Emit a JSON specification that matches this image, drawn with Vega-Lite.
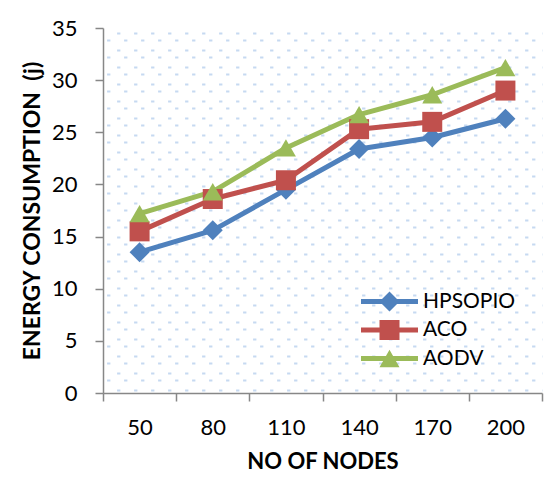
{
  "$schema": "https://vega.github.io/schema/vega-lite/v6.json",
  "width": 439,
  "height": 365,
  "autosize": {"type": "none"},
  "padding": {"left": 103, "top": 28, "right": 5, "bottom": 84},
  "background": "#ffffff",
  "config": {
    "view": {"stroke": null},
    "font": "Lato",
    "axis": {
      "labelFont": "Lato",
      "labelFontSize": 22,
      "labelColor": "#000000",
      "titleFont": "Lato",
      "titleFontSize": 22,
      "titleFontWeight": "bold",
      "titleColor": "#000000",
      "domainColor": "#878787",
      "domainWidth": 1.5,
      "tickColor": "#878787",
      "tickWidth": 1.5,
      "tickSize": 8
    }
  },
  "data": {
    "values": [
      {"nodes": 50, "protocol": "HPSOPIO", "energy": 13.5},
      {"nodes": 80, "protocol": "HPSOPIO", "energy": 15.6},
      {"nodes": 110, "protocol": "HPSOPIO", "energy": 19.5},
      {"nodes": 140, "protocol": "HPSOPIO", "energy": 23.4},
      {"nodes": 170, "protocol": "HPSOPIO", "energy": 24.5},
      {"nodes": 200, "protocol": "HPSOPIO", "energy": 26.3},
      {"nodes": 50, "protocol": "ACO", "energy": 15.5},
      {"nodes": 80, "protocol": "ACO", "energy": 18.6},
      {"nodes": 110, "protocol": "ACO", "energy": 20.4},
      {"nodes": 140, "protocol": "ACO", "energy": 25.3},
      {"nodes": 170, "protocol": "ACO", "energy": 26.0},
      {"nodes": 200, "protocol": "ACO", "energy": 29.0},
      {"nodes": 50, "protocol": "AODV", "energy": 17.2},
      {"nodes": 80, "protocol": "AODV", "energy": 19.3},
      {"nodes": 110, "protocol": "AODV", "energy": 23.5},
      {"nodes": 140, "protocol": "AODV", "energy": 26.7},
      {"nodes": 170, "protocol": "AODV", "energy": 28.6},
      {"nodes": 200, "protocol": "AODV", "energy": 31.2}
    ]
  },
  "encoding": {
    "x": {
      "field": "nodes",
      "type": "ordinal",
      "scale": {"type": "band", "paddingInner": 0, "paddingOuter": 0},
      "axis": {
        "title": "NO OF NODES",
        "labelAngle": 0,
        "tickBand": "extent",
        "labelPadding": 26,
        "labelBaseline": "middle",
        "titleY": 68,
        "titleBaseline": "middle",
        "grid": false
      }
    },
    "y": {
      "field": "energy",
      "type": "quantitative",
      "scale": {"domain": [0, 35], "nice": false, "zero": true},
      "axis": {
        "title": "ENERGY CONSUMPTION\u00a0\u00a0(j)",
        "titleFontSize": 23,
        "values": [0, 5, 10, 15, 20, 25, 30, 35,
          34.55, 32.92, 31.29, 29.66, 28.03, 26.40, 24.77, 23.14, 21.51, 19.88, 18.25, 16.62, 14.99, 13.36, 11.73, 10.10, 8.47, 6.84, 5.21, 3.58, 1.95, 0.32,
          33.85, 32.22, 30.59, 28.96, 27.33, 25.70, 24.07, 22.44, 20.81, 19.18, 17.55, 15.92, 14.29, 12.66, 11.03, 9.40, 7.77, 6.14, 4.51, 2.88, 1.25],
        "labelExpr": "datum.value % 5 === 0 ? format(datum.value, 'd') : ''",
        "labelOverlap": false,
        "labelFlush": false,
        "labelPadding": 18,
        "tickOpacity": {"condition": {"test": "datum.value % 5 === 0", "value": 1}, "value": 0},
        "grid": true,
        "gridColor": "#c6d9f1",
        "gridWidth": 2,
        "gridDash": [3.3, 13.7],
        "gridOpacity": {"condition": {"test": "datum.value % 5 === 0", "value": 0}, "value": 1},
        "gridDashOffset": {"condition": {"test": "abs((34.55 - datum.value) / 1.63 - round((34.55 - datum.value) / 1.63)) < 0.1", "value": 3.4}, "value": 13.4},
        "titleX": -71,
        "titleBaseline": "middle"
      }
    },
    "color": {
      "field": "protocol",
      "type": "nominal",
      "scale": {"domain": ["HPSOPIO", "ACO", "AODV"], "range": ["#4f81bd", "#c0504d", "#9bbb59"]},
      "legend": {
        "title": null,
        "orient": "none",
        "legendX": 276,
        "legendY": 263,
        "padding": 0,
        "labelFont": "Lato",
        "labelFontSize": 21,
        "labelColor": "#000000",
        "labelOffset": 23,
        "symbolSize": 400,
        "symbolStrokeWidth": 0,
        "rowPadding": 6.5,
        "encode": {
          "symbols": {
            "update": {
              "shape": {"signal": "datum.value === 'HPSOPIO' ? 'M-2.85,-0.25H2.85V0.25H-2.85Z M0,-1L1,0L0,1L-1,0Z' : datum.value === 'ACO' ? 'M-2.85,-0.25H2.85V0.25H-2.85Z M-1,-1H1V1H-1Z' : 'M-2.85,-0.25H2.85V0.25H-2.85Z M0,-0.87L1,0.87H-1Z'"},
              "fill": {"scale": "color", "field": "value"},
              "stroke": {"value": "transparent"},
              "opacity": {"value": 1},
              "fillOpacity": {"value": 1}
            }
          }
        }
      }
    }
  },
  "layer": [
    {
      "mark": {"type": "line", "strokeWidth": 5, "strokeJoin": "round", "strokeCap": "round"}
    },
    {
      "transform": [{"filter": "datum.protocol === 'HPSOPIO'"}],
      "mark": {"type": "point", "shape": "diamond", "filled": true, "size": 400, "opacity": 1}
    },
    {
      "transform": [{"filter": "datum.protocol === 'ACO'"}],
      "mark": {"type": "point", "shape": "square", "filled": true, "size": 400, "opacity": 1}
    },
    {
      "transform": [{"filter": "datum.protocol === 'AODV'"}],
      "mark": {"type": "point", "shape": "triangle-up", "filled": true, "size": 400, "opacity": 1}
    }
  ]
}
